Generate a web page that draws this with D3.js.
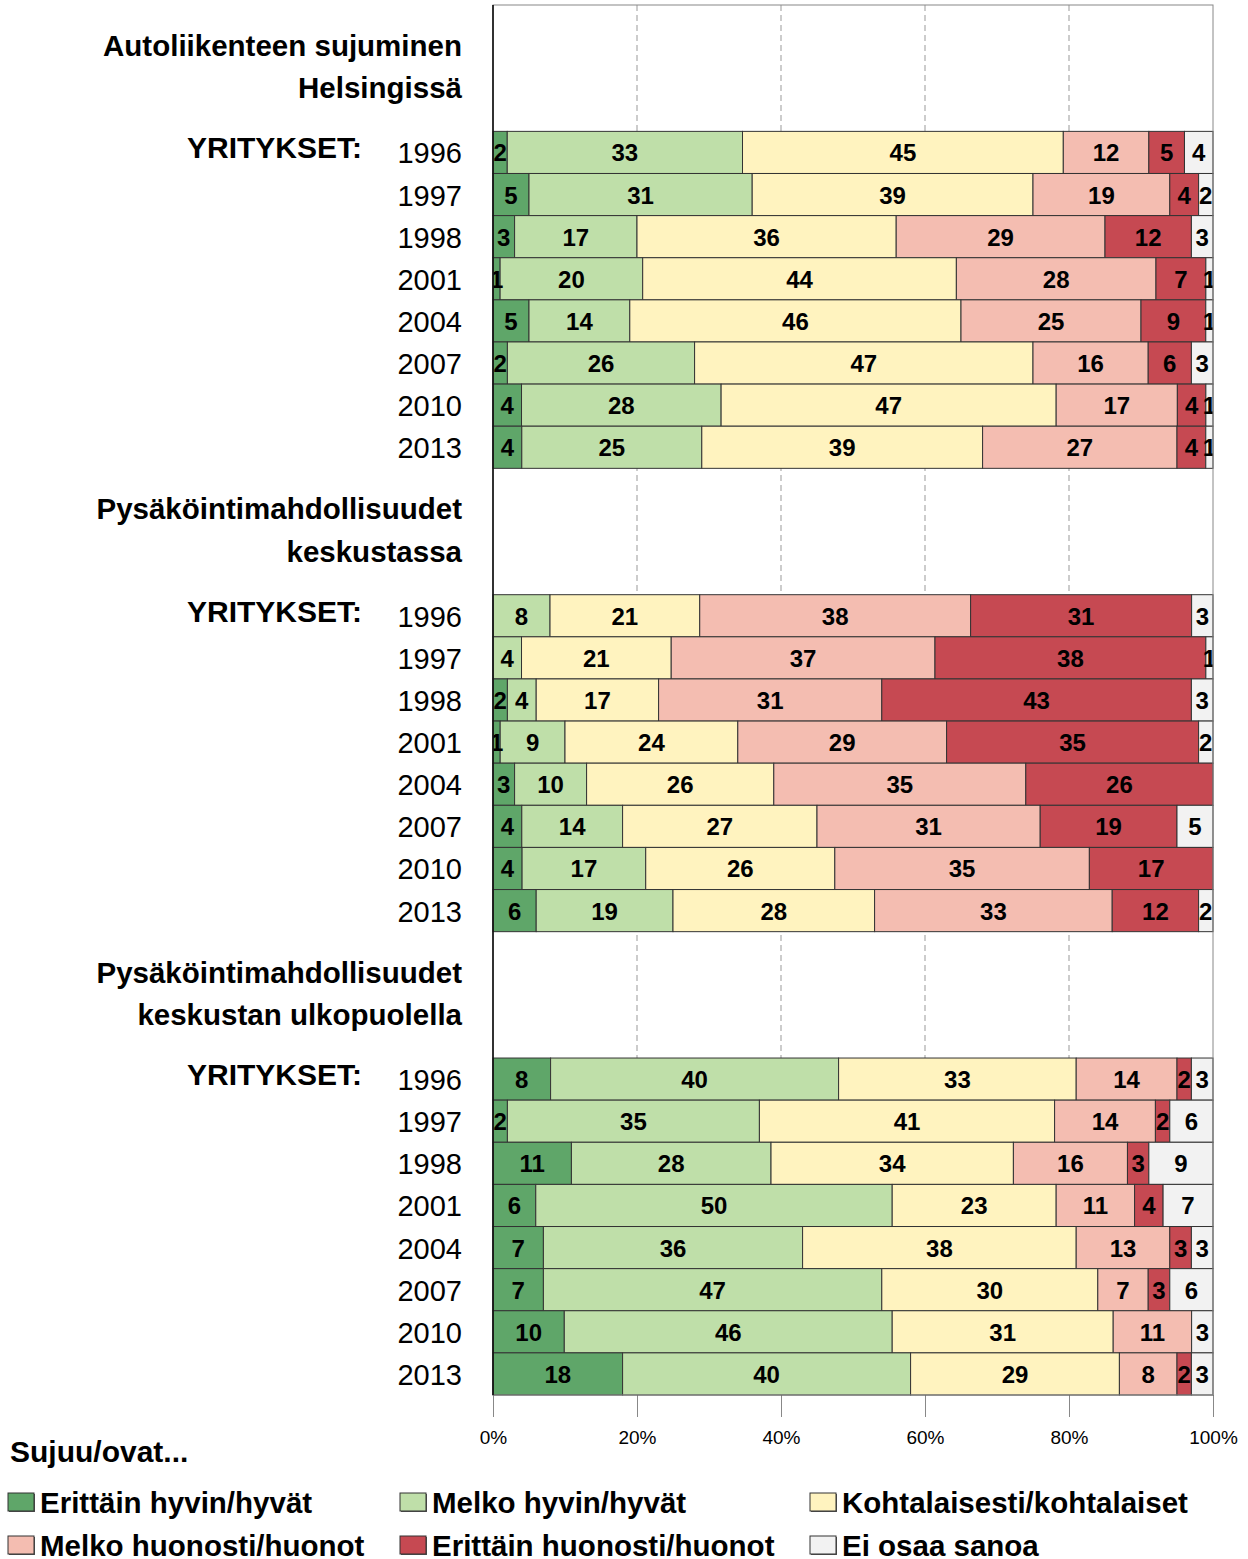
<!DOCTYPE html>
<html>
<head>
<meta charset="utf-8">
<script src="https://cdn.jsdelivr.net/npm/d3@7"></script>
<style>
  body { margin: 0; background: #fff; }
  svg { font-family: "Liberation Sans", Arial, Helvetica, sans-serif; }
</style>
</head>
<body>
<div id="chart"></div>
<script>
// categories (answer classes)
var categories = ["Erittäin hyvin/hyvät", "Melko hyvin/hyvät", "Kohtalaisesti/kohtalaiset",
                  "Melko huonosti/huonot", "Erittäin huonosti/huonot", "Ei osaa sanoa"];
var colors = ["#5fa669", "#bfdfa9", "#fff3bf", "#f4bdb1", "#c64952", "#f2f2f2"];
var years = ["1996", "1997", "1998", "2001", "2004", "2007", "2010", "2013"];
var groupTitles = [["Autoliikenteen sujuminen", "Helsingissä"],
                   ["Pysäköintimahdollisuudet", "keskustassa"],
                   ["Pysäköintimahdollisuudet", "keskustan ulkopuolella"]];
var xTicks = [0, 20, 40, 60, 80, 100];

// values per year, in category order
var liikenne = [
  [2, 33, 45, 12, 5, 4],
  [5, 31, 39, 19, 4, 2],
  [3, 17, 36, 29, 12, 3],
  [1, 20, 44, 28, 7, 1],
  [5, 14, 46, 25, 9, 1],
  [2, 26, 47, 16, 6, 3],
  [4, 28, 47, 17, 4, 1],
  [4, 25, 39, 27, 4, 1]
];
var keskusta = [
  [0, 8, 21, 38, 31, 3],
  [0, 4, 21, 37, 38, 1],
  [2, 4, 17, 31, 43, 3],
  [1, 9, 24, 29, 35, 2],
  [3, 10, 26, 35, 26, 0],
  [4, 14, 27, 31, 19, 5],
  [4, 17, 26, 35, 17, 0],
  [6, 19, 28, 33, 12, 2]
];
var ulkopuoli = [
  [8, 40, 33, 14, 2, 3],
  [2, 35, 41, 14, 2, 6],
  [11, 28, 34, 16, 3, 9],
  [6, 50, 23, 11, 4, 7],
  [7, 36, 38, 13, 3, 3],
  [7, 47, 30, 7, 3, 6],
  [10, 46, 31, 11, 0, 3],
  [18, 40, 29, 8, 2, 3]
];
var groups = [liikenne, keskusta, ulkopuoli];

var W = 1248, H = 1559;
var pLeft = 493, pRight = 1213, pTop = 5, pBottom = 1395;

var svg = d3.select("#chart").append("svg")
    .attr("width", W).attr("height", H);

// one row per band: 3 header rows + 8 years for each group
var rows = [];
groups.forEach(function (g, gi) {
    for (var h = 0; h < 3; h++) rows.push({ id: "g" + gi + "h" + h, group: gi, header: h });
    g.forEach(function (vals, yi) {
        rows.push({ id: "g" + gi + "y" + yi, group: gi, year: years[yi], vals: vals, yi: yi });
    });
});

var y = d3.scaleBand().domain(rows.map(function (r) { return r.id; }))
    .range([pTop, pBottom]).padding(0);
var x = d3.scaleLinear().domain([0, 100]).range([pLeft, pRight]);

// grid lines
svg.append("g").selectAll("line").data([20, 40, 60, 80]).enter().append("line")
    .attr("x1", function (d) { return x(d); }).attr("x2", function (d) { return x(d); })
    .attr("y1", pTop).attr("y2", pBottom)
    .style("stroke", "#999").style("stroke-dasharray", "6,4").style("stroke-width", 1);

// bottom axis
var axis = d3.axisBottom(x).tickValues(xTicks).tickSize(22).tickFormat(function (d) { return d + "%"; });
var ax = svg.append("g").attr("transform", "translate(0," + pBottom + ")").call(axis);
ax.select(".domain").remove();
ax.selectAll(".tick line").style("stroke", "#888");
ax.selectAll(".tick text").attr("y", 36).style("font-size", "19px")
    .style("font-family", "Liberation Sans, Arial, sans-serif").style("fill", "#000");

svg.append("defs").append("clipPath").attr("id", "plotclip")
    .append("rect").attr("x", pLeft).attr("y", pTop).attr("width", pRight - pLeft).attr("height", pBottom - pTop);

// stacked bars
var barRows = rows.filter(function (r) { return r.vals; });
var segs = [];
barRows.forEach(function (r) {
    var total = d3.sum(r.vals), acc = 0;
    r.vals.forEach(function (v, ci) {
        segs.push({ row: r, ci: ci, v: v, x0: acc / total * 100, x1: (acc + v) / total * 100 });
        acc += v;
    });
});
var shown = segs.filter(function (s) { return s.v > 0; });
var barG = svg.append("g");
barG.selectAll("rect").data(shown).enter().append("rect")
    .attr("x", function (s) { return x(s.x0); })
    .attr("width", function (s) { return x(s.x1) - x(s.x0); })
    .attr("y", function (s) { return y(s.row.id); })
    .attr("height", y.bandwidth())
    .style("fill", function (s) { return colors[s.ci]; })
    .style("stroke", "#333").style("stroke-width", 1);

barG.append("g").attr("clip-path", "url(#plotclip)")
    .selectAll("text").data(shown).enter().append("text")
    .attr("x", function (s) { return (x(s.x0) + x(s.x1)) / 2; })
    .attr("y", function (s) { return y(s.row.id) + y.bandwidth() / 2 + 9; })
    .attr("text-anchor", "middle")
    .style("font-size", "24px").style("font-weight", "bold")
    .text(function (s) { return s.v; });

// frame
svg.append("rect").attr("x", pLeft).attr("y", pTop).attr("width", pRight - pLeft).attr("height", pBottom - pTop)
    .style("fill", "none").style("stroke", "#888").style("stroke-width", 1);
svg.append("line").attr("x1", pLeft).attr("x2", pLeft).attr("y1", pTop).attr("y2", pBottom)
    .style("stroke", "#000").style("stroke-width", 1.5);

// left labels
var labG = svg.append("g");
rows.forEach(function (r) {
    var cy = y(r.id) + y.bandwidth() / 2;
    if (r.header !== undefined && r.header < 2) {
        labG.append("text").attr("x", 462).attr("y", cy + 30).attr("text-anchor", "end")
            .style("font-size", "29.5px").style("font-weight", "bold")
            .text(groupTitles[r.group][r.header]);
    }
    if (r.year) {
        labG.append("text").attr("x", 462).attr("y", cy + 11).attr("text-anchor", "end")
            .style("font-size", "29px").text(r.year);
        if (r.yi === 0) {
            labG.append("text").attr("x", 362).attr("y", cy + 6).attr("text-anchor", "end")
                .style("font-size", "30px").style("font-weight", "bold").text("YRITYKSET:");
        }
    }
});

// legend
svg.append("text").attr("x", 10).attr("y", 1462).style("font-size", "30px").style("font-weight", "bold")
    .text("Sujuu/ovat...");
var legX = [8, 400, 810], legY = [1493, 1536];
var leg = svg.append("g").selectAll("g").data(categories).enter().append("g")
    .attr("transform", function (d, i) { return "translate(" + legX[i % 3] + "," + legY[Math.floor(i / 3)] + ")"; });
leg.append("rect").attr("x", 1).attr("y", 1).attr("width", 26).attr("height", 18).style("fill", "#555");
leg.append("rect").attr("width", 26).attr("height", 18)
    .style("fill", function (d, i) { return colors[i]; }).style("stroke", "#333").style("stroke-width", 1);
leg.append("text").attr("x", 32).attr("y", 20).style("font-size", "29.5px").style("font-weight", "bold")
    .text(function (d) { return d; });
</script>
</body>
</html>
